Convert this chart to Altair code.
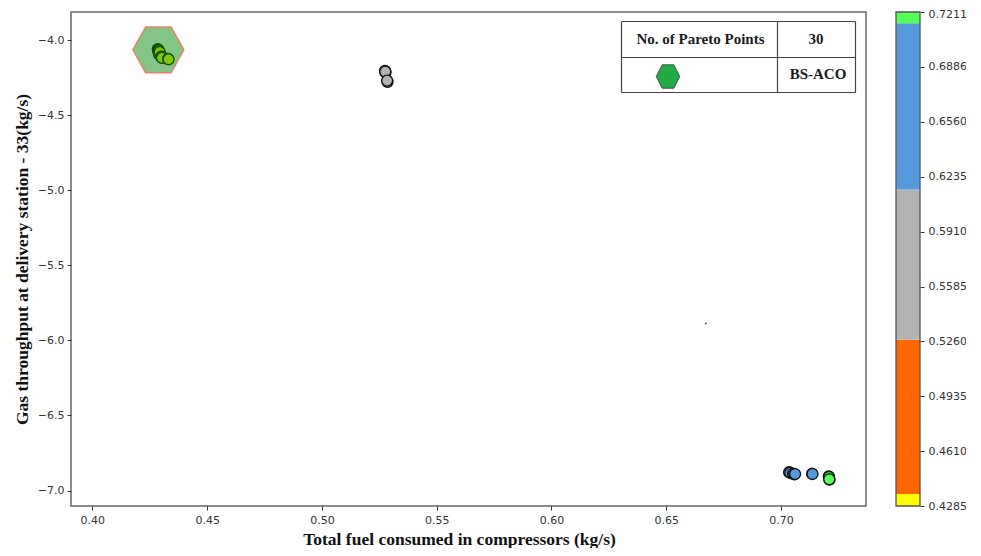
import altair as alt
import pandas as pd

# ---------------- data ----------------
fuel = [0.4285, 0.4287, 0.4290, 0.4288, 0.4289, 0.4292, 0.4291, 0.4293,
        0.4300, 0.4302, 0.4305, 0.4303, 0.4330, 0.4332,
        0.5275, 0.5277, 0.5276, 0.5286, 0.5284,
        0.7035, 0.7040, 0.7052, 0.7058, 0.7061, 0.7135, 0.7137,
        0.7208, 0.7209, 0.7211, 0.7210]
throughput = [-4.060, -4.065, -4.070, -4.075, -4.085, -4.090, -4.095, -4.080,
              -4.110, -4.115, -4.112, -4.118, -4.125, -4.128,
              -4.205, -4.215, -4.210, -4.278, -4.270,
              -6.878, -6.882, -6.888, -6.892, -6.890, -6.888, -6.890,
              -6.905, -6.910, -6.927, -6.925]

stray_x = [0.6672]
stray_y = [-5.887]

hex_x = [0.42875]
hex_y = [-4.065]

cb_min, cb_max = 0.4285, 0.7211
thresholds = [0.4356, 0.527, 0.616, 0.7144]
cb_colors = ["#ffff00", "#ff6600", "#b3b3b3", "#5599dd", "#55ff55"]
cb_ticks = [0.4285, 0.4610, 0.4935, 0.5260, 0.5585, 0.5910,
            0.6235, 0.6560, 0.6886, 0.7211]

x_ticks = [0.40, 0.45, 0.50, 0.55, 0.60, 0.65, 0.70]
y_ticks = [-4.0, -4.5, -5.0, -5.5, -6.0, -6.5, -7.0]

table_texts = ["No. of Pareto Points", "30", "BS-ACO"]

x_title = "Total fuel consumed in compressors (kg/s)"
y_title = "Gas throughput at delivery station - 33(kg/s)"

# ---------------- frames ----------------
pts = pd.DataFrame({"fuel": fuel, "thr": throughput})
stray = pd.DataFrame({"fuel": stray_x, "thr": stray_y})
hexdf = pd.DataFrame({"fuel": hex_x, "thr": hex_y})
edges = [cb_min] + thresholds + [cb_max]
bands = pd.DataFrame({"lo": edges[:-1], "hi": edges[1:]})
bands["mid"] = (bands["lo"] + bands["hi"]) / 2
one = pd.DataFrame({"a": [0]})

W, H = 795, 494
x_dom = [0.3907, 0.7370]
y_dom = [-7.103, -3.813]

color_scale = alt.Scale(type="threshold", domain=thresholds, range=cb_colors)

xs = alt.Scale(domain=x_dom, nice=False, zero=False)
ys = alt.Scale(domain=y_dom, nice=False, zero=False)

serif = "Liberation Serif"
sans = "DejaVu Sans"

x_axis = alt.Axis(
    values=x_ticks, format=".2f", title=x_title, grid=False,
    titleFont=serif, titleFontSize=17.5, titleFontWeight="bold", titleColor="#111",
    titleX=388, titleY=33, titleBaseline="middle",
    labelFont=sans, labelFontSize=11, labelColor="#333", labelPadding=4,
    tickColor="#333", tickSize=4, domain=False, labelFlush=False)
y_axis = alt.Axis(
    values=y_ticks, format=".1f", title=y_title, grid=False,
    titleFont=serif, titleFontSize=17.5, titleFontWeight="bold", titleColor="#111",
    titleX=-49, titleY=247, titleBaseline="middle", titleAngle=270, titleAlign="center",
    labelFont=sans, labelFontSize=11, labelColor="#333", labelPadding=3,
    tickColor="#333", tickSize=4, domain=False, labelFlush=False)

def xe():
    return alt.X("fuel:Q", scale=xs, axis=x_axis)

def ye():
    return alt.Y("thr:Q", scale=ys, axis=y_axis)

points = alt.Chart(pts).mark_circle(
    size=120, opacity=1, stroke="#111", strokeWidth=1.3
).encode(x=xe(), y=ye(),
         color=alt.Color("fuel:Q", scale=color_scale, legend=None))

stray_pt = alt.Chart(stray).mark_circle(size=3, color="#333", opacity=1).encode(
    x=xe(), y=ye())

hex_big = alt.Chart(hexdf).mark_point(
    shape="M-1,0L-0.5,-0.9L0.5,-0.9L1,0L0.5,0.9L-0.5,0.9Z",
    size=2601, filled=True, fill="#0a8a0a", fillOpacity=0.5,
    stroke="#f07860", strokeWidth=1.5, strokeOpacity=0.9
).encode(x=xe(), y=ye())

main = alt.layer(points, stray_pt, hex_big)

# ---- table legend (pixel-positioned annotation) ----
L, R, T, B = 550.5, 784.5, 9.5, 80.5
VX, HY = 706.5, 45.5
tcol = "#444"
rules = [
    (L, R, T, T), (L, R, B, B), (L, L, T, B), (R, R, T, B),
    (VX, VX, T, B), (L, R, HY, HY),
]
rule_layers = [
    alt.Chart(one).mark_rule(color=tcol, strokeWidth=1.2).encode(
        x=alt.value(a), x2=alt.value(b), y=alt.value(c), y2=alt.value(d))
    for a, b, c, d in rules
]
box_bg = alt.Chart(one).mark_rect(fill="white", stroke=None).encode(
    x=alt.value(L), x2=alt.value(R), y=alt.value(T), y2=alt.value(B))

def txt(s, x, y):
    return alt.Chart(one).mark_text(
        font=serif, fontSize=15, fontWeight="bold", color="#1a1a1a",
        align="center", baseline="middle"
    ).encode(x=alt.value(x), y=alt.value(y), text=alt.value(s))

texts = [txt(table_texts[0], 629.5, 26.5), txt(table_texts[1], 745, 26.5),
         txt(table_texts[2], 747, 62)]
hex_small = alt.Chart(one).mark_point(
    shape="M-1,0L-0.5,-1L0.5,-1L1,0L0.5,1L-0.5,1Z",
    size=550, filled=True, fill="#22aa44", stroke="#333", strokeWidth=0.8,
    opacity=1
).encode(x=alt.value(597), y=alt.value(64.5))

table = alt.layer(box_bg, *rule_layers, *texts, hex_small)

# ---- colorbar ----
cbs = alt.Scale(domain=[cb_min, cb_max], nice=False, zero=False)
cb_x0, cb_x1 = 825, 849
cb_rects = alt.Chart(bands).mark_rect(stroke=None).encode(
    x=alt.value(cb_x0), x2=alt.value(cb_x1),
    y=alt.Y("lo:Q", scale=cbs, axis=alt.Axis(
        orient="right", offset=cb_x1 - W, values=cb_ticks, format=".4f",
        title=None, grid=False, domain=False, tickColor="#333", tickSize=4,
        labelFont=sans, labelFontSize=11, labelColor="#333", labelPadding=4,
        labelFlush=False, labelOverlap=False,
        labelOffset={"condition": {"test": "datum.value > 0.72", "value": 2}, "value": 0})),
    y2="hi:Q",
    color=alt.Color("mid:Q", scale=color_scale, legend=None))
cb_border = alt.Chart(one).mark_rect(fill=None, stroke="#555", strokeWidth=1.3).encode(
    x=alt.value(cb_x0), x2=alt.value(cb_x1), y=alt.value(0), y2=alt.value(H))
colorbar = alt.layer(cb_rects, cb_border)

chart = alt.layer(main, table, colorbar).resolve_scale(y="independent").properties(
    width=W, height=H,
    autosize=alt.AutoSizeParams(type="none"),
    padding={"left": 63, "top": 4, "right": 100, "bottom": 42},
).configure_view(stroke="#666", strokeWidth=1.5)

chart.save("out.html", embed_options={"renderer": "svg", "actions": False})
